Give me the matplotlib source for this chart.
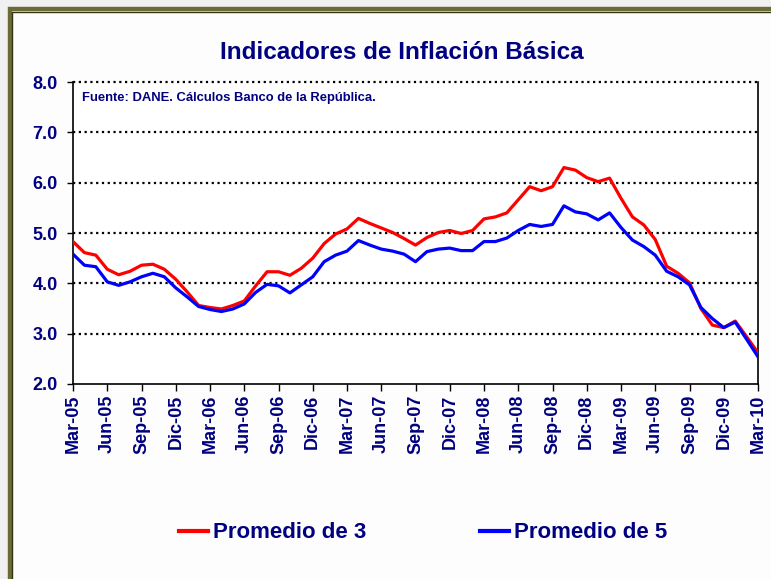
import numpy as np
import matplotlib.pyplot as plt
from matplotlib.patches import Rectangle
from matplotlib.lines import Line2D

# monthly core inflation, Mar-05 .. Mar-10 (%)
promedio_3 = [4.83, 4.61, 4.56, 4.28, 4.17, 4.24, 4.36, 4.38, 4.28, 4.08,
              3.83, 3.56, 3.52, 3.49, 3.56, 3.65, 3.95, 4.23, 4.23, 4.16,
              4.30, 4.50, 4.79, 4.98, 5.08, 5.29, 5.19, 5.10, 5.01, 4.89,
              4.76, 4.91, 5.01, 5.05, 4.99, 5.05, 5.28, 5.32, 5.40, 5.66,
              5.92, 5.84, 5.92, 6.30, 6.25, 6.10, 6.02, 6.09, 5.69, 5.32,
              5.16, 4.87, 4.34, 4.20, 4.01, 3.50, 3.17, 3.12, 3.25, 2.94,
              2.62]
promedio_5 = [4.58, 4.36, 4.33, 4.03, 3.96, 4.03, 4.13, 4.20, 4.13, 3.91,
              3.73, 3.54, 3.48, 3.44, 3.49, 3.59, 3.82, 3.98, 3.95, 3.81,
              3.97, 4.13, 4.43, 4.56, 4.64, 4.85, 4.76, 4.68, 4.64, 4.58,
              4.43, 4.63, 4.68, 4.70, 4.65, 4.65, 4.83, 4.83, 4.90, 5.05,
              5.17, 5.13, 5.17, 5.54, 5.42, 5.38, 5.26, 5.40, 5.11, 4.86,
              4.73, 4.56, 4.24, 4.13, 3.97, 3.52, 3.30, 3.12, 3.23, 2.89,
              2.54]
tick_labels = ['Mar-05', 'Jun-05', 'Sep-05', 'Dic-05', 'Mar-06', 'Jun-06', 'Sep-06',
               'Dic-06', 'Mar-07', 'Jun-07', 'Sep-07', 'Dic-07', 'Mar-08', 'Jun-08',
               'Sep-08', 'Dic-08', 'Mar-09', 'Jun-09', 'Sep-09', 'Dic-09', 'Mar-10']
y_ticks = [2.0, 3.0, 4.0, 5.0, 6.0, 7.0, 8.0]

navy = '#000080'
W, H = 771, 579
plt.rcParams['font.family'] = ['Liberation Sans', 'DejaVu Sans']

fig = plt.figure(figsize=(W / 100, H / 100), dpi=100, facecolor='#f1f1f1')

# slide frame
fig.patches.append(Rectangle((9.5 / W, -0.1), 1.2, 1 - 9.5 / H + 0.1, transform=fig.transFigure,
                             facecolor='#fdfdfd', edgecolor='#6b6b3a', lw=3.2, zorder=0))
fig.patches.append(Rectangle((11.5 / W, -0.1), 1.2, 1 - 11.5 / H + 0.1, transform=fig.transFigure,
                             facecolor='none', edgecolor='#33330f', lw=1.0, zorder=0))

ax = fig.add_axes([73 / W, 1 - 384 / H, 685 / W, 302 / H])
ax.set_zorder(2)
ax.set_facecolor('white')
x = np.arange(len(promedio_3))
ax.plot(x, promedio_3, color='#ff0000', lw=2.3, zorder=3)
ax.plot(x, promedio_5, color='#0000ff', lw=2.3, zorder=4)

ax.set_xlim(0, len(x) - 1)
ax.set_ylim(2, 8)
ax.set_yticks(y_ticks)
ax.set_yticklabels([f'{v:.1f}' for v in y_ticks], fontsize=13, fontweight='bold', color=navy)
ax.set_xticks(np.arange(0, len(x), 3))
ax.set_xticklabels(tick_labels, rotation=90, fontsize=13, fontweight='bold', color=navy)
ax.tick_params(axis='y', direction='out', length=4, width=1, pad=7)
ax.tick_params(axis='x', direction='out', length=5, width=1, pad=3)

for v in y_ticks[1:]:
    ax.axhline(v, color='black', lw=1.6, linestyle=(0, (1, 1.6)), zorder=1, clip_on=False)
ax.spines['top'].set_visible(False)
for s in ['left', 'bottom', 'right']:
    ax.spines[s].set_linewidth(1.2)
    ax.spines[s].set_color('black')

fig.text(402 / W, 1 - 59 / H, 'Indicadores de Inflación Básica', ha='center', va='baseline',
         fontsize=17.5, fontweight='bold', color=navy, zorder=3)
fig.text(82 / W, 1 - 101 / H, 'Fuente: DANE. Cálculos Banco de la República.', ha='left',
         va='baseline', fontsize=9.4, fontweight='bold', color=navy, zorder=3)

handles = [Line2D([], [], color='#ff0000', lw=3), Line2D([], [], color='#0000ff', lw=3)]
leg = fig.legend(handles, ['Promedio de 3', 'Promedio de 5'], loc='center',
                 bbox_to_anchor=(423 / W, 1 - 533 / H), ncol=2, frameon=False,
                 handlelength=1.3, handletextpad=0.25, columnspacing=5.1,
                 prop={'size': 16, 'weight': 'bold'}, labelcolor=navy)
leg.set_zorder(3)

fig.savefig('out.png', dpi=100, facecolor=fig.get_facecolor())
